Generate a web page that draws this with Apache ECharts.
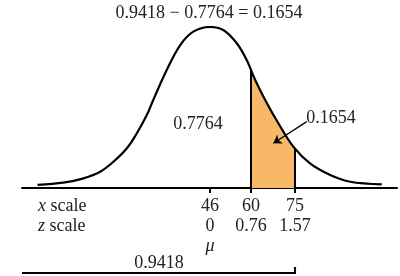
<!DOCTYPE html>
<html>
<head>
<meta charset="utf-8">
<script src="https://cdn.jsdelivr.net/npm/echarts@6/dist/echarts.min.js"></script>
<style>
  html, body { margin: 0; padding: 0; background: #fff; }
  #chart { width: 400px; height: 276px; }
</style>
</head>
<body>
<div id="chart"></div>
<script>
// curve (x scale units, height relative to the peak)
const curveX = [-12.9, -4.1, 2.8, 8.5, 13, 17.6, 21, 24.4, 26.6, 31.2, 35.8, 40.3, 46, 50.5, 55.1, 58.5, 61.4, 65.4, 69.3, 74.4, 80.1, 87, 93.8, 104.6];
const curveY = [0.02, 0.033, 0.06, 0.101, 0.163, 0.247, 0.34, 0.453, 0.547, 0.733, 0.888, 0.971, 1.0, 0.981, 0.899, 0.795, 0.671, 0.526, 0.402, 0.257, 0.153, 0.081, 0.039, 0.023];
// shaded part between 60 and 75
const shadeX = [60, 62.5, 65, 67.5, 70, 72.5, 75];
const shadeY = [0.731, 0.631, 0.54, 0.46, 0.382, 0.31, 0.246];
// tick labels
const xTicks = [46, 60, 75];
const zLabels = ['0', '0.76', '1.57'];
const areaLeft = 0.7764, areaRight = 0.9418, areaBetween = 0.1654;

const font = '"Liberation Serif", "DejaVu Serif", serif';
const myChart = echarts.init(document.getElementById('chart'));

const curve = curveX.map((x, i) => [x, curveY[i]]);
const last = shadeX.length - 1;
const shade = [[shadeX[0], 0]].concat(shadeX.map((x, i) => [x, shadeY[i]]), [[shadeX[last], 0]]);

let option = {
    backgroundColor: '#fff',
    animation: false,
    grid: { left: 22, right: 3, top: 27, bottom: 88 },
    xAxis: {
        type: 'value',
        min: -18.2,
        max: 109.8,
        splitLine: { show: false },
        axisLine: { lineStyle: { color: '#000', width: 2 } },
        axisTick: {
            customValues: xTicks,
            length: 5,
            lineStyle: { color: '#000', width: 2 }
        },
        axisLabel: {
            customValues: xTicks,
            margin: 8,
            verticalAlign: 'top',
            color: '#222',
            fontFamily: font,
            fontSize: 18,
            lineHeight: 20,
            formatter: function (v) {
                const i = xTicks.indexOf(v);
                let s = v + '\n' + zLabels[i];
                if (i === 0) s += '\n{mu|μ}';
                return s;
            },
            rich: {
                mu: { fontStyle: 'italic', fontFamily: font, fontSize: 18, color: '#222', lineHeight: 20 }
            }
        }
    },
    yAxis: {
        type: 'value',
        min: 0,
        max: 1,
        show: false
    },
    series: [
        {
            type: 'line',
            data: shade,
            symbol: 'none',
            lineStyle: { width: 0 },
            areaStyle: { color: '#F8B867', opacity: 1 },
            markLine: {
                symbol: 'none',
                silent: true,
                label: { show: false },
                lineStyle: { color: '#000', width: 2, type: 'solid' },
                data: [
                    [{ coord: [shadeX[0], 0] }, { coord: [shadeX[0], shadeY[0]] }],
                    [{ coord: [shadeX[last], 0] }, { coord: [shadeX[last], shadeY[last]] }]
                ]
            }
        },
        {
            type: 'line',
            data: curve,
            smooth: 0.35,
            symbol: 'none',
            lineStyle: { color: '#000', width: 2.2 },
            markLine: {
                symbol: ['none', 'arrow'],
                symbolSize: 8,
                silent: true,
                label: { show: false },
                lineStyle: { color: '#000', width: 1.3, type: 'solid' },
                data: [[{ coord: [79, 0.412] }, { coord: [67.6, 0.278] }]]
            }
        }
    ]
};

myChart.setOption(option);

const x0 = myChart.convertToPixel({ xAxisIndex: 0 }, -18.2);
const x75 = myChart.convertToPixel({ xAxisIndex: 0 }, 75);
const txt = (x, y, text, size) => ({
    type: 'text', x: x, y: y,
    style: { text: text, fill: '#222', font: (size || 18) + 'px ' + font, textAlign: 'center', textVerticalAlign: 'middle' }
});
const scaleTxt = (y, letter) => ({
    type: 'text', x: 38, y: y,
    style: { text: '{i|' + letter + '} scale', fill: '#222', font: '18px ' + font, textAlign: 'left', textVerticalAlign: 'middle',
        rich: { i: { fontStyle: 'italic', fontFamily: font, fontSize: 18, fill: '#222' } } }
});

myChart.setOption({
    graphic: [
        txt(209, 13, areaRight.toFixed(4) + ' − ' + areaLeft.toFixed(4) + ' = ' + areaBetween.toFixed(4)),
        txt(198, 124, areaLeft.toFixed(4)),
        txt(331, 118, areaBetween.toFixed(4)),
        scaleTxt(206, 'x'),
        scaleTxt(226, 'z'),
        txt(159, 263, areaRight.toFixed(4)),
        {
            type: 'polyline',
            shape: { points: [[x0, 273], [x75, 273], [x75, 267]] },
            style: { stroke: '#000', lineWidth: 2, fill: null }
        }
    ]
});
</script>
</body>
</html>
